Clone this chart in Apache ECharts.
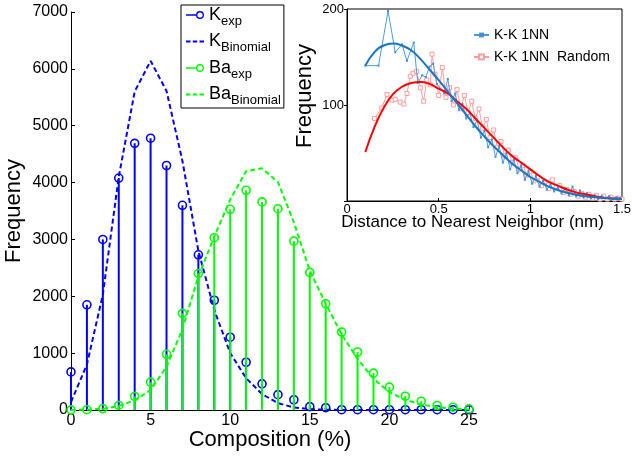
<!DOCTYPE html>
<html>
<head>
<meta charset="utf-8">
<script src="https://cdn.jsdelivr.net/npm/echarts@6/dist/echarts.min.js"></script>
<style>
  html, body { margin: 0; padding: 0; background: #fff; }
  #chart { width: 632px; height: 459px; }
</style>
</head>
<body>
<div id="chart"></div>
<script>
// Composition histogram (stems) with binomial expectations
const composition = [0,1,2,3,4,5,6,7,8,9,10,11,12,13,14,15,16,17,18,19,20,21,22,23,24,25];
const kExp      = [670,1850,3000,4080,4690,4780,4300,3600,2730,1930,1280,840,460,270,180,60,40,5,5,5,5,5,5,5,5,5];
const kBinomial = [140,800,2030,4100,5600,6140,5610,4380,2800,1760,1000,560,280,120,45,15,5,0,0,0,0,0,0,0,0,0];
const baExp     = [3,5,25,80,240,490,980,1700,2400,3030,3530,3865,3660,3540,2970,2420,1870,1370,1020,648,402,243,155,79,49,21];
const baBinomial= [0,5,20,70,170,350,760,1420,2350,3050,3700,4200,4250,4010,3300,2450,1870,1330,900,550,314,179,97,50,25,10];
const compTicks = [0,5,10,15,20,25];
const freqTicks = [0,1000,2000,3000,4000,5000,6000,7000];

// Nearest-neighbour distance distribution (inset)
const nnDist  = [0.100,0.172,0.224,0.263,0.300,0.327,0.364,0.386,0.41,0.43,0.45,0.47,0.49,0.51,0.53,0.55,0.57,0.59,0.61,0.63,0.65,0.67,0.69,0.71,0.73,0.75,0.77,0.79,0.81,0.83,0.85,0.87,0.89,0.91,0.93,0.95,0.97,0.99,1.01,1.03,1.05,1.07,1.09,1.11,1.13,1.15,1.17,1.19,1.21,1.23,1.25,1.27,1.29,1.31,1.33,1.35,1.37,1.39,1.41,1.43,1.45,1.47,1.49];
const nnCount = [141,141,198,155,163,146,165,123,131,129,140,143,122,117,112,127,104,112,95,101,86,92,77,84,66,73,56,64,46,57,40,50,33,43,29,37,22,31,18,26,15,21,12,17,10,14,8,13,6,15,5,11,4,8,3,6,2,5,3,5,2,4,3];
const rndDist  = [0.15,0.19,0.218,0.245,0.263,0.29,0.31,0.327,0.345,0.36,0.38,0.40,0.418,0.435,0.455,0.464,0.48,0.50,0.52,0.54,0.56,0.58,0.60,0.62,0.64,0.66,0.68,0.70,0.72,0.74,0.76,0.78,0.80,0.82,0.84,0.86,0.88,0.90,0.92,0.94,0.96,0.98,1.00,1.02,1.04,1.06,1.08,1.10,1.12,1.14,1.16,1.18,1.20,1.22,1.24,1.26,1.28,1.30,1.32,1.34,1.36,1.38,1.40,1.42,1.44,1.46,1.48,1.50];
const rndCount = [86,97,111,105,106,103,101,112,130,133,135,118,104,126,121,153,132,110,139,108,118,100,116,96,110,92,104,86,96,76,85,66,74,56,62,47,53,40,45,33,37,27,31,21,25,16,20,13,22,14,16,9,12,7,10,5,8,4,7,3,6,2,5,2,4,2,3,2];
const fitDist   = [0.10,0.15,0.20,0.25,0.30,0.35,0.40,0.45,0.50,0.55,0.60,0.65,0.70,0.75,0.80,0.85,0.90,0.95,1.00,1.05,1.10,1.15,1.20,1.25,1.30,1.35,1.40,1.45,1.50];
const fitNN     = [141,155,162,164,162,157,148,137,126,114,102,90,78,67,57,48,39,32,25,20,15,11.5,8.5,6.5,5,3.8,3,2.4,2];
const fitRandom = [51,77,97,111,119,123,124,122,117,112,104,96,86,76,66,56,47,40,33,26,20,16,12,9,7,5,3.5,2.5,2];

const FONT = "'Liberation Sans', Arial, Helvetica, sans-serif";
const BLUE = '#0000ff', GREEN = '#00ff00';

const zip = (xs, ys) => xs.map((x, i) => [x, ys[i]]);
const plain = v => String(v);

// Legend icons: short stem with open circle, and dashed segment
const specks = 'M0,0h0.01v0.01h-0.01Z M17.99,7.99h0.01v0.01h-0.01Z ';
const stemIcon = 'path://' + specks + 'M0,3.2H10V4.8H0Z M14,0A4,4,0,1,1,13.99,0Z M14,1.4A2.6,2.6,0,1,0,14.01,1.4Z';
const dashIcon = 'path://' + specks + 'M0,3.1H4.5V4.9H0Z M6.75,3.1H11.25V4.9H6.75Z M13.5,3.1H18V4.9H13.5Z';

function stemRender(color) {
  return function (params, api) {
    const x = api.value(0), y = api.value(1);
    const p0 = api.coord([x, 0]);
    const p1 = api.coord([x, y]);
    return {
      type: 'group',
      children: [
        { type: 'line', shape: { x1: p0[0], y1: p0[1], x2: p1[0], y2: p1[1] },
          style: { stroke: color, lineWidth: 2 } },
        { type: 'circle', shape: { cx: p1[0], cy: p1[1], r: 4 },
          style: { stroke: color, fill: 'none', lineWidth: 1.6 } }
      ]
    };
  };
}

const subLabel = {
  'K_exp': '{m|K}{s|exp}',
  'K_Binomial': '{m|K}{s|Binomial}',
  'Ba_exp': '{m|Ba}{s|exp}',
  'Ba_Binomial': '{m|Ba}{s|Binomial}'
};

const chart = echarts.init(document.getElementById('chart'), null, { renderer: 'canvas' });

const option = {
  backgroundColor: '#fff',
  animation: false,
  textStyle: { fontFamily: FONT },
  grid: [
    { left: 71, top: 12, width: 398, height: 398, outerBoundsMode: 'none', containLabel: false },
    { left: 347, top: 9, width: 275, height: 192, show: true, outerBoundsMode: 'none', containLabel: false,
      backgroundColor: '#fff', borderColor: '#000', borderWidth: 1 }
  ],
  legend: [
    {
      data: [
        { name: 'K_exp', icon: stemIcon },
        { name: 'K_Binomial', icon: dashIcon },
        { name: 'Ba_exp', icon: stemIcon },
        { name: 'Ba_Binomial', icon: dashIcon }
      ],
      orient: 'vertical',
      left: 181, top: 5,
      padding: [1, 3, 1, 5],
      itemGap: 5,
      itemWidth: 18, itemHeight: 8,
      backgroundColor: '#fff',
      borderColor: '#000', borderWidth: 1, borderRadius: 0,
      itemStyle: { borderWidth: 0 },
      lineStyle: { width: 0 },
      formatter: name => subLabel[name],
      textStyle: {
        color: '#000', fontFamily: FONT,
        rich: {
          m: { fontSize: 18, lineHeight: 25, fontFamily: FONT, color: '#000', verticalAlign: 'middle' },
          s: { fontSize: 13, lineHeight: 10, fontFamily: FONT, color: '#000', verticalAlign: 'bottom' }
        }
      },
      selectedMode: false
    },
    {
      data: ['K-K 1NN', 'K-K 1NN  Random'],
      orient: 'vertical',
      left: 473, top: 27,
      padding: 0,
      itemGap: 6,
      itemWidth: 15, itemHeight: 6,
      textStyle: { color: '#000', fontSize: 14, fontFamily: FONT, lineHeight: 16 },
      selectedMode: false
    }
  ],
  xAxis: [
    {
      gridIndex: 0, type: 'value', min: 0, max: 25, interval: 5,
      name: 'Composition (%)', nameLocation: 'middle', nameGap: 19, nameMoveOverlap: false,
      nameTextStyle: { fontSize: 22, color: '#000', fontFamily: FONT },
      axisLine: { lineStyle: { color: '#000', width: 1 } },
      axisTick: { inside: true, length: 4, lineStyle: { color: '#000' } },
      axisLabel: { fontSize: 16, color: '#000', margin: 3, fontFamily: FONT,
        customValues: compTicks, formatter: plain },
      splitLine: { show: false }
    },
    {
      gridIndex: 1, type: 'value', min: 0, max: 1.5, interval: 0.5,
      name: 'Distance to Nearest Neighbor (nm)', nameLocation: 'middle', nameGap: 13, nameMoveOverlap: false,
      nameTextStyle: { fontSize: 17, color: '#000', fontFamily: FONT, padding: [0, 24, 0, 0] },
      axisLine: { lineStyle: { color: '#000', width: 1 } },
      axisTick: { inside: true, length: 3, lineStyle: { color: '#000' } },
      axisLabel: { fontSize: 13, color: '#000', margin: 2, fontFamily: FONT, showMaxLabel: true },
      splitLine: { show: false }
    }
  ],
  yAxis: [
    {
      gridIndex: 0, type: 'value', min: 0, max: 7000, interval: 1000,
      name: 'Frequency', nameLocation: 'middle', nameGap: 46, nameMoveOverlap: false,
      nameTextStyle: { fontSize: 22, color: '#000', fontFamily: FONT },
      axisLine: { show: true, lineStyle: { color: '#000', width: 1 } },
      axisTick: { show: true, inside: true, length: 4, lineStyle: { color: '#000' } },
      axisLabel: { fontSize: 16, color: '#000', margin: 3, fontFamily: FONT,
        customValues: freqTicks, formatter: plain },
      splitLine: { show: false }
    },
    {
      gridIndex: 1, type: 'value', min: 0, max: 200, interval: 100,
      name: 'Frequency', nameLocation: 'middle', nameGap: 31, nameMoveOverlap: false,
      nameTextStyle: { fontSize: 22, color: '#000', fontFamily: FONT, padding: [0, 0, 0, 18] },
      axisLine: { show: true, lineStyle: { color: '#000', width: 1 } },
      axisTick: { show: true, inside: false, length: 3, lineStyle: { color: '#000' } },
      axisLabel: { fontSize: 13, color: '#000', margin: 3, fontFamily: FONT,
        formatter: v => (v === 0 ? '' : String(v)) },
      splitLine: { show: false }
    }
  ],
  series: [
    {
      name: 'K_exp', type: 'custom', xAxisIndex: 0, yAxisIndex: 0,
      itemStyle: { color: BLUE },
      renderItem: stemRender(BLUE),
      data: zip(composition, kExp), z: 2
    },
    {
      name: 'K_Binomial', type: 'line', xAxisIndex: 0, yAxisIndex: 0,
      data: zip(composition, kBinomial), showSymbol: false, symbol: 'none',
      itemStyle: { color: BLUE },
      lineStyle: { color: BLUE, width: 2, type: [5, 3] }, z: 3
    },
    {
      name: 'Ba_exp', type: 'custom', xAxisIndex: 0, yAxisIndex: 0,
      itemStyle: { color: GREEN },
      renderItem: stemRender(GREEN),
      data: zip(composition, baExp), z: 4
    },
    {
      name: 'Ba_Binomial', type: 'line', xAxisIndex: 0, yAxisIndex: 0,
      data: zip(composition, baBinomial), showSymbol: false, symbol: 'none',
      itemStyle: { color: GREEN },
      lineStyle: { color: GREEN, width: 2, type: [5, 3] }, z: 5
    },
    {
      name: 'K-K 1NN  Random', type: 'line', xAxisIndex: 1, yAxisIndex: 1,
      data: zip(rndDist, rndCount),
      symbol: 'rect', symbolSize: 4, showSymbol: true,
      itemStyle: { color: '#fff', borderColor: '#ff9c9c', borderWidth: 1 },
      lineStyle: { color: '#ff9c9c', width: 1 }, z: 3
    },
    {
      name: 'K-K 1NN', type: 'line', xAxisIndex: 1, yAxisIndex: 1,
      data: zip(nnDist, nnCount),
      symbol: 'rect', symbolSize: 2, showSymbol: true,
      itemStyle: { color: '#3f8fdc' },
      lineStyle: { color: '#4b9be2', width: 1 }, z: 4
    },
    {
      name: 'fitRandom', type: 'line', xAxisIndex: 1, yAxisIndex: 1,
      data: zip(fitDist, fitRandom), smooth: true, symbol: 'none',
      lineStyle: { color: '#ff0000', width: 2 }, z: 5
    },
    {
      name: 'fitNN', type: 'line', xAxisIndex: 1, yAxisIndex: 1,
      data: zip(fitDist, fitNN), smooth: true, symbol: 'none',
      lineStyle: { color: '#1a74c6', width: 2 }, z: 6
    }
  ]
};

chart.setOption(option);
</script>
</body>
</html>
